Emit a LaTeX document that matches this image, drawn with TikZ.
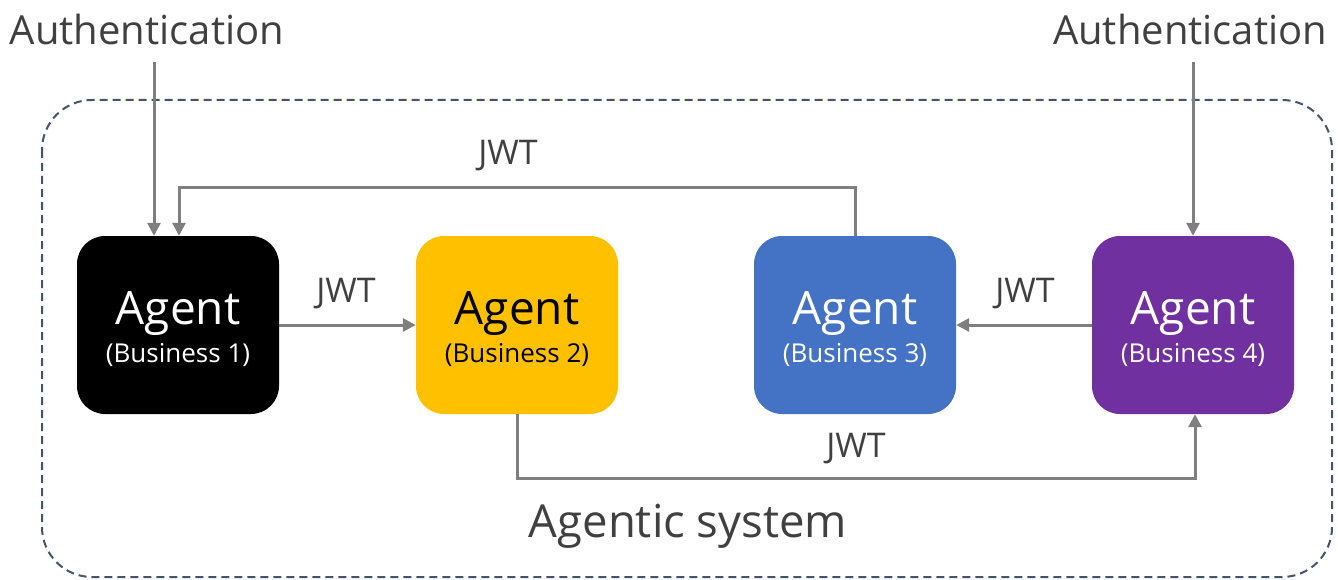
\documentclass[tikz,border=0pt]{standalone}
\usepackage{fontspec}
\setmainfont{Open Sans}
\usetikzlibrary{arrows.meta}
\definecolor{txt}{HTML}{404040}
\definecolor{arrowgray}{HTML}{7F7F7F}
\definecolor{frame}{HTML}{44546A}
\definecolor{yel}{HTML}{FFC000}
\definecolor{blu}{HTML}{4472C4}
\definecolor{pur}{HTML}{7030A0}
\tikzset{
  agentbox/.style={rectangle, rounded corners=28pt, minimum width=202pt, minimum height=178pt, inner sep=0pt},
  agenttxt/.style={inner sep=0pt, align=center},
  arr/.style={draw=arrowgray, line width=3pt, -{Triangle[length=13pt,width=13pt]}},
  lbl/.style={text=txt, inner sep=0pt, font=\fontsize{34}{34}\selectfont},
  auth/.style={text=txt, inner sep=0pt, font=\fontsize{40}{40}\selectfont},
}
\newcommand{\agenttext}[1]{{\fontsize{46}{46}\selectfont Agent}\\[7pt]{\fontsize{26}{26}\selectfont (Business #1)}}
\begin{document}
\begin{tikzpicture}[x=1pt,y=-1pt]
\useasboundingbox (0,0) rectangle (1338,580);
\draw[frame, line width=2pt, dash pattern=on 8pt off 5pt, rounded corners=50pt] (42,100) rectangle (1332,577);
\node[agentbox, fill=black] (b1) at (178,325) {};
\node[agentbox, fill=yel] (b2) at (517,325) {};
\node[agentbox, fill=blu] (b3) at (855,325) {};
\node[agentbox, fill=pur] (b4) at (1193,325) {};
\node[agenttxt, text=white] (t1) at ([yshift=-4pt]b1.center) {\agenttext{1}};
\node[agenttxt, text=black] (t2) at ([yshift=-4pt]b2.center) {\agenttext{2}};
\node[agenttxt, text=white] (t3) at ([yshift=-4pt]b3.center) {\agenttext{3}};
\node[agenttxt, text=white] (t4) at ([yshift=-4pt]b4.center) {\agenttext{4}};
\node[auth, anchor=base] (auth1) at (147,45) {Authentication};
\node[auth, anchor=base] (auth2) at (1190,45) {Authentication};
\coordinate (a1s) at (154,62);
\coordinate (a2s) at (1193,62);
\draw[arr] (a1s) -- (a1s |- b1.north);
\draw[arr] (a2s) -- (a2s |- b4.north);
\draw[arr] (b1.east) -- (b2.west);
\draw[arr] (b4.west) -- (b3.east);
\draw[arr] (b3.north) -- ++(0,-48) -| ([xshift=1pt]b1.north);
\draw[arr] (b2.south) -- ++(0,64) -| ([xshift=2pt]b4.south);
\node[lbl, anchor=base] (j1) at (346,302) {JWT};
\node[lbl, anchor=base] (j2) at (1025,302) {JWT};
\node[lbl, anchor=base] (j3) at (508,165) {JWT};
\node[lbl, anchor=base] (j4) at (856,457) {JWT};
\node[text=txt, inner sep=0pt, anchor=base, font=\fontsize{45.5}{45.5}\selectfont] (sys) at (688,537) {Agentic system};
\end{tikzpicture}
\end{document}
